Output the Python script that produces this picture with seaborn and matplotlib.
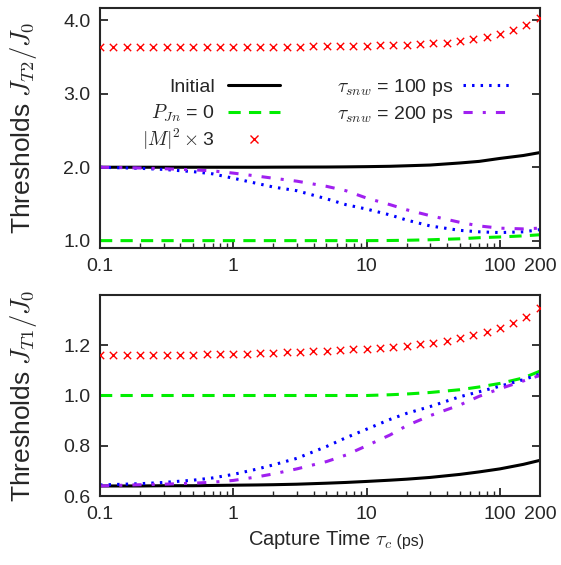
import matplotlib
matplotlib.use("Agg")
import matplotlib.pyplot as plt
import seaborn as sns
from matplotlib.lines import Line2D

# capture time grid of the curves (ps)
tau = [0.1, 0.2, 0.3, 0.5, 0.7, 1, 1.5, 2, 3, 5, 7, 10, 15, 20, 30, 50, 70, 100, 150, 200]

# capture time grid of the |M|^2 x 3 markers (ps)
tau_m = [0.1, 0.126, 0.158, 0.2, 0.251, 0.316, 0.398, 0.501, 0.631, 0.794,
         1, 1.26, 1.58, 2, 2.51, 3.16, 3.98, 5.01, 6.31, 7.94,
         10, 12.6, 15.8, 20, 25.1, 31.6, 39.8, 50.1, 63.1, 79.4,
         100, 126, 158, 200]

# top panel: J_T2 / J_0
t2_initial = [2.0, 2.0, 2.0, 2.0, 2.0, 2.0, 2.0, 2.001, 2.002, 2.003,
              2.005, 2.008, 2.013, 2.02, 2.03, 2.058, 2.08, 2.12, 2.16, 2.2]
t2_pjn0 = [1.0, 1.0, 1.0, 1.0, 1.0, 1.0, 1.0, 1.0, 1.0, 1.0,
           1.0, 1.0, 1.002, 1.005, 1.012, 1.025, 1.04, 1.05, 1.065, 1.08]
t2_snw100 = [2.0, 1.985, 1.97, 1.94, 1.91, 1.85, 1.78, 1.73, 1.68, 1.57,
             1.49, 1.43, 1.35, 1.28, 1.20, 1.14, 1.12, 1.11, 1.12, 1.15]
t2_snw200 = [2.0, 1.99, 1.98, 1.965, 1.95, 1.92, 1.88, 1.85, 1.81, 1.74,
             1.68, 1.58, 1.49, 1.42, 1.34, 1.25, 1.20, 1.17, 1.16, 1.17]
t2_m2 = [3.64, 3.64, 3.64, 3.64, 3.64, 3.64, 3.64, 3.64, 3.64, 3.64,
         3.64, 3.64, 3.64, 3.641, 3.642, 3.644, 3.646, 3.648, 3.651, 3.654,
         3.657, 3.661, 3.665, 3.67, 3.677, 3.686, 3.697, 3.715, 3.745, 3.78,
         3.82, 3.87, 3.94, 4.03]

# bottom panel: J_T1 / J_0
t1_initial = [0.640, 0.640, 0.641, 0.641, 0.642, 0.643, 0.644, 0.645, 0.647, 0.651,
              0.654, 0.658, 0.663, 0.667, 0.674, 0.686, 0.696, 0.708, 0.726, 0.742]
t1_pjn0 = [1.0, 1.0, 1.0, 1.0, 1.0, 1.0, 1.0, 1.0, 1.0, 1.0,
           1.0, 1.0, 1.003, 1.006, 1.012, 1.023, 1.034, 1.048, 1.07, 1.097]
t1_snw100 = [0.644, 0.649, 0.654, 0.663, 0.672, 0.686, 0.707, 0.724, 0.750, 0.797,
             0.832, 0.866, 0.905, 0.929, 0.956, 0.995, 1.015, 1.037, 1.063, 1.085]
t1_snw200 = [0.640, 0.645, 0.647, 0.651, 0.655, 0.662, 0.676, 0.688, 0.708, 0.737,
             0.763, 0.800, 0.843, 0.880, 0.920, 0.962, 0.997, 1.027, 1.058, 1.080]
t1_m2 = [1.160, 1.160, 1.160, 1.161, 1.161, 1.162, 1.162, 1.163, 1.164, 1.165,
         1.166, 1.167, 1.168, 1.170, 1.172, 1.174, 1.176, 1.178, 1.181, 1.184,
         1.187, 1.190, 1.194, 1.198, 1.203, 1.210, 1.218, 1.227, 1.239, 1.253,
         1.268, 1.287, 1.313, 1.347]

xticks = [0.1, 1, 10, 100, 200]
xticklabels = ["0.1", "1", "10", "100", "200"]
xminor = [0.2, 0.3, 0.4, 0.5, 0.6, 0.7, 0.8, 0.9,
          2, 3, 4, 5, 6, 7, 8, 9,
          20, 30, 40, 50, 60, 70, 80, 90]

# line styles (gnuplot look)
LW = 2.2
styles = {
    "initial": dict(color="black", lw=LW, linestyle="-"),
    "pjn0": dict(color="#00ee00", lw=LW, linestyle=(0, (4, 2.7))),
    "snw100": dict(color="#0000ff", lw=LW, linestyle=(0, (0.8, 2.0))),
    "snw200": dict(color="#a020f0", lw=LW, linestyle=(0, (3, 3.3, 1, 3.3))),
}
marker_kw = dict(marker="x", color="red", s=28, linewidth=1.0)

sns.set_style("ticks")
plt.rcParams["font.family"] = ["Liberation Sans", "DejaVu Sans"]
plt.rcParams["mathtext.fontset"] = "cm"
plt.rcParams["axes.linewidth"] = 1.5


def draw_panel(ax, initial, pjn0, snw100, snw200, m2):
    sns.scatterplot(x=tau_m, y=m2, ax=ax, zorder=3, **marker_kw)
    sns.lineplot(x=tau, y=initial, ax=ax, **styles["initial"])
    sns.lineplot(x=tau, y=pjn0, ax=ax, **styles["pjn0"])
    sns.lineplot(x=tau, y=snw100, ax=ax, **styles["snw100"])
    sns.lineplot(x=tau, y=snw200, ax=ax, **styles["snw200"])
    ax.set_xscale("log")
    ax.set_xlim(0.1, 200)
    ax.set_xticks(xticks)
    ax.set_xticklabels(xticklabels)
    ax.set_xticks(xminor, minor=True)
    ax.set_xticklabels([], minor=True)
    ax.tick_params(axis="both", which="major", direction="in", length=6, width=1.3,
                   labelsize=14, right=True, top=False)
    ax.tick_params(axis="both", which="minor", direction="in", length=3.5, width=1.0,
                   right=True, top=False)
    ax.tick_params(axis="x", pad=7)
    ax.tick_params(axis="y", pad=7)
    for s in ax.spines.values():
        s.set_visible(True)
        s.set_linewidth(1.5)


def legend_entry(ax, text, x_text, x0, x1, y_base, style=None, marker=False):
    # gnuplot-style key row: right-aligned text, then the sample
    ax.text(x_text, y_base, text, transform=ax.transAxes, ha="right",
            va="baseline", fontsize=14)
    y_mid = y_base + 0.029
    if marker:
        ax.add_line(Line2D([(x0 + x1) / 2], [y_mid], transform=ax.transAxes,
                           ls="", marker="x", color="red", ms=5.5, mew=1.0))
    else:
        ax.add_line(Line2D([x0, x1], [y_mid, y_mid], transform=ax.transAxes,
                           **style))


fig = plt.figure(figsize=(5.61, 5.65), dpi=100)
ax1 = fig.add_axes([0.1783, 0.5611, 0.7843, 0.4248])
ax2 = fig.add_axes([0.1783, 0.1221, 0.7843, 0.3558])

draw_panel(ax1, t2_initial, t2_pjn0, t2_snw100, t2_snw200, t2_m2)
ax1.set_ylim(0.9, 4.17)
ax1.set_yticks([1.0, 2.0, 3.0, 4.0])
ax1.set_yticklabels(["1.0", "2.0", "3.0", "4.0"])
ax1.set_ylabel(r"Thresholds $J_{T2}/J_0$", fontsize=19)
ax1.yaxis.set_label_coords(-0.138, 0.5)

draw_panel(ax2, t1_initial, t1_pjn0, t1_snw100, t1_snw200, t1_m2)
ax2.set_ylim(0.6, 1.4)
ax2.set_yticks([0.6, 0.8, 1.0, 1.2])
ax2.set_yticklabels(["0.6", "0.8", "1.0", "1.2"])
ax2.set_ylabel(r"Thresholds $J_{T1}/J_0$", fontsize=19)
ax2.yaxis.set_label_coords(-0.138, 0.5)
xl = ax2.set_xlabel(r"Capture Time $\tau_c$", fontsize=14.5, labelpad=4)
ax2.annotate(" (ps)", xy=(1, 0.12), xycoords=xl, ha="left", va="bottom", fontsize=11.5)

# key in the top panel, two columns
rows = [0.650, 0.5375, 0.425]
legend_entry(ax1, "Initial", 0.261, 0.291, 0.409, rows[0], styles["initial"])
legend_entry(ax1, r"$P_{Jn}$ = 0", 0.261, 0.291, 0.409, rows[1], styles["pjn0"])
legend_entry(ax1, r"$|M|^2\times$3", 0.261, 0.291, 0.409, rows[2], marker=True)
legend_entry(ax1, r"$\tau_{snw}$ = 100 ps", 0.802, 0.825, 0.936, rows[0], styles["snw100"])
legend_entry(ax1, r"$\tau_{snw}$ = 200 ps", 0.802, 0.825, 0.936, rows[1], styles["snw200"])

fig.savefig("out.png", dpi=100)
